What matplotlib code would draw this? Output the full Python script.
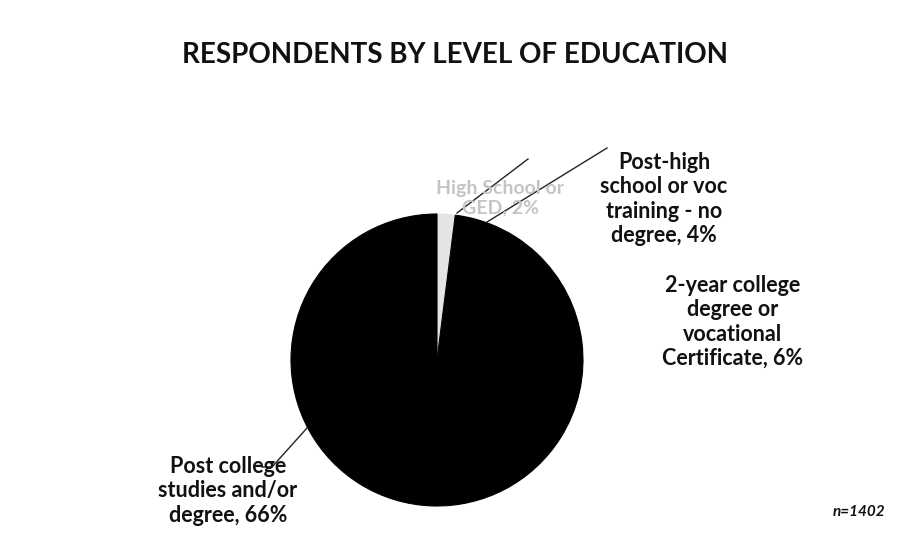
import matplotlib
matplotlib.use("Agg")
import matplotlib.pyplot as plt

# slice data (clockwise from 12 o'clock)
categories = ["High School or\nGED", "Post-high\nschool or voc\ntraining - no\ndegree",
              "2-year college\ndegree or\nvocational\nCertificate", "4-year college\ndegree",
              "Post college\nstudies and/or\ndegree"]
shares = [2, 4, 6, 22, 66]
colors = ["#e4e4e4", "#000000", "#000000", "#000000", "#000000"]

W, H = 909, 536
plt.rcParams['font.family'] = ['Lato', 'DejaVu Sans']

fig = plt.figure(figsize=(W / 100, H / 100), dpi=100)
ax = fig.add_axes([0, 0, 1, 1])

def py(y):
    # pixel row -> data y
    return H - y

wedges, _ = ax.pie(shares, colors=colors, startangle=90, counterclock=False,
                   center=(437, py(360)), radius=146, frame=True)
for w, c in zip(wedges, colors):
    w.set_edgecolor(c)
    w.set_linewidth(0.8)
ax.set_xlim(0, W)
ax.set_ylim(0, H)
ax.set_aspect("equal")
ax.axis("off")

ax.text(455, py(55), "RESPONDENTS BY LEVEL OF EDUCATION", ha="center", va="center",
        fontsize=20, fontweight="bold", color="#111111")

# data labels
def label(i, x, y, color="#111111", size=15.5):
    ax.text(x, py(y), f"{categories[i]}, {shares[i]}%", ha="center", va="center",
            fontsize=size, fontweight="bold", color=color, linespacing=1.2)

label(0, 500, 198, color="#c4c4c4", size=14)
label(1, 664, 199)
label(2, 733, 322)
label(4, 228, 491)
# black text on the black slice, as in the source
label(3, 510, 345, color="#000000", size=12)

# leader lines
ax.plot([457, 528], [py(213), py(159)], color="#222222", lw=1)
ax.plot([487, 607], [py(222), py(148)], color="#222222", lw=1)
ax.plot([262, 272, 307], [py(467), py(467), py(428)], color="#222222", lw=1)

ax.text(885, py(512), "n=1402", ha="right", va="center", fontsize=11,
        fontweight="bold", fontstyle="italic", color="#111111")

fig.savefig("out.png", dpi=100)
